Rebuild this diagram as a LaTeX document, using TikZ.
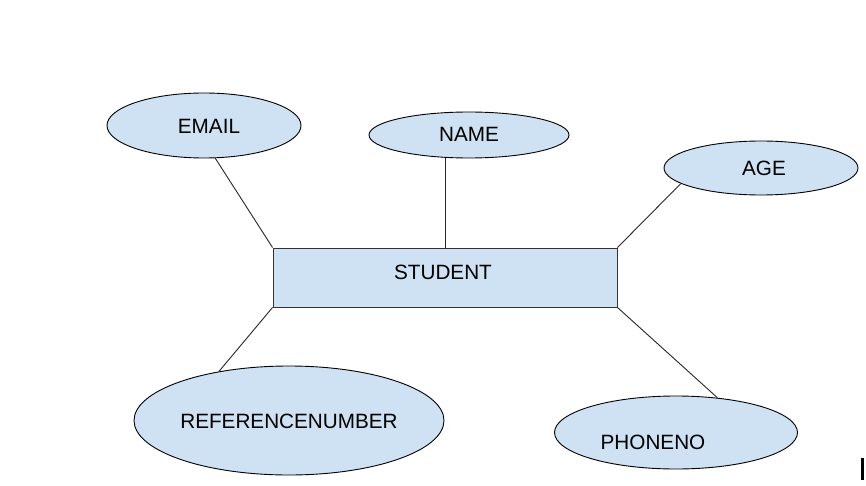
\documentclass[tikz,border=0pt]{standalone}
\usepackage{fontspec}
\setmainfont{Liberation Sans}
\usetikzlibrary{shapes.geometric}
\definecolor{attrblue}{HTML}{CFE2F3}
\tikzset{
  attr/.style={ellipse,draw=black,fill=attrblue,line width=0.9pt,inner sep=0pt},
  entity/.style={rectangle,draw=black!80,fill=attrblue,line width=0.9pt,inner sep=0pt,
    minimum width=344,minimum height=59},
  lbl/.style={font=\fontsize{20.7}{24}\selectfont,inner sep=0pt},
  link/.style={line width=0.9pt,black!85}
}
\begin{document}
\begin{tikzpicture}[x=1pt,y=-1pt]
\useasboundingbox (0,0) rectangle (866,486);
\node[entity] (student) at (445,277.5) {}; % entity
\node[lbl] (studenttext) at (443,272) {STUDENT}; % entity label
\node[attr,minimum width=194,minimum height=65] (email) at (204,125.5) {}; % EMAIL
\node[lbl] (emailtext) at (209,126) {EMAIL};
\node[attr,minimum width=200,minimum height=46] (name) at (469,135) {}; % NAME
\node[lbl] (nametext) at (469,134) {NAME};
\node[attr,minimum width=194,minimum height=54] (age) at (761,168) {}; % AGE
\node[lbl] (agetext) at (764,168) {AGE};
\node[attr,minimum width=310,minimum height=109] (refnum) at (289,420.5) {}; % REFERENCENUMBER
\node[lbl] (refnumtext) at (289,421) {REFERENCENUMBER};
\node[attr,minimum width=243,minimum height=73] (phone) at (676,432.5) {}; % PHONENO
\node[lbl] (phonetext) at (653,442) {PHONENO};
\draw[link] (student.north west) -- (email.-71); % Wiring
\draw[link] (student.north) -- (student.north |- name.south); % Wiring
\draw[link] (student.north east) -- (age.-169); % Wiring
\draw[link] (student.south west) -- (refnum.145); % Wiring
\draw[link] (student.south east) -- (phone.40); % Wiring
\fill[black] (861,458) rectangle (864,480); % mark
\end{tikzpicture}
\end{document}
